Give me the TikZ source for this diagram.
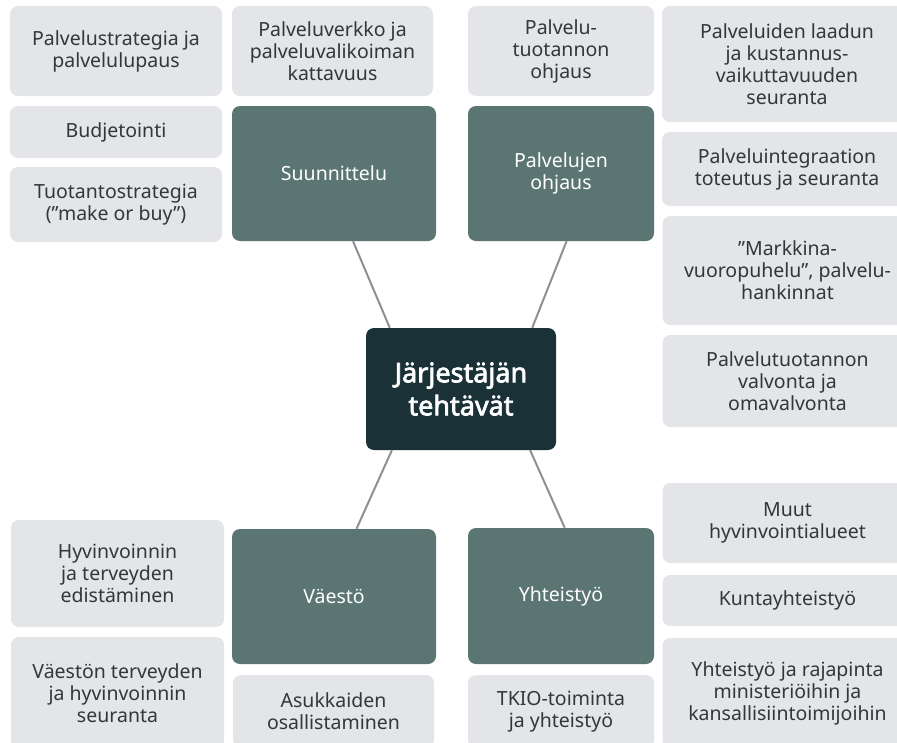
\documentclass[tikz,border=0pt]{standalone}
\usepackage{fontspec}
\setmainfont{Noto Sans}
\newfontfamily\corefont{Noto Sans}[FakeBold=2.6]
\usetikzlibrary{calc}
\definecolor{tilegray}{HTML}{E3E5E8}
\definecolor{hubgreen}{HTML}{5B7572}
\definecolor{coredark}{HTML}{1B3138}
\definecolor{inkgray}{HTML}{33373A}
\definecolor{linkgray}{HTML}{8C9196}
\tikzset{
  tile/.style={fill=tilegray, rounded corners=8pt, inner sep=0pt, align=center,
    text=inkgray, font=\fontsize{19.5}{22}\selectfont},
  hub/.style={fill=hubgreen, rounded corners=8pt, inner sep=0pt, align=center,
    text=white, font=\fontsize{19.5}{22}\selectfont},
  core/.style={fill=coredark, rounded corners=8pt, inner sep=0pt, align=center,
    text=white, font=\corefont\fontsize{27}{33}\selectfont},
  link/.style={draw=linkgray, line width=2pt},
}
\begin{document}
\begin{tikzpicture}[x=1pt,y=-1pt]
\useasboundingbox (0,0) rectangle (897,742);
\clip (0,0) rectangle (897,742);
\fill[white] (0,0) rectangle (897,742);

% Suunnittelu group
\node[tile, minimum width=212pt, minimum height=90pt] (strat) at (116,51) {Palvelustrategia ja\\palvelulupaus};
\node[tile, minimum width=201pt, minimum height=90pt] (verkko) at (332.5,51) {Palveluverkko ja\\palveluvalikoiman\\kattavuus};
\node[tile, minimum width=212pt, minimum height=52pt] (budj) at (116,132) {Budjetointi};
\node[tile, minimum width=212pt, minimum height=75pt] (tuot) at (116,204.5) {Tuotantostrategia\\(”make or buy”)};
\node[hub, minimum width=204pt, minimum height=135pt] (suun) at (334,173.5) {Suunnittelu};

% Palvelujen ohjaus group
\node[tile, minimum width=186pt, minimum height=90pt] (tuoh) at (561,51) {Palvelu-\\tuotannon\\ohjaus};
\node[hub, minimum width=186pt, minimum height=135pt] (ohj) at (561,173.5) {Palvelujen\\ohjaus};
\node[tile, minimum width=250pt, minimum height=116pt] (laatu) at (787,64) {Palveluiden laadun\\ja kustannus-\\vaikuttavuuden\\seuranta};
\node[tile, minimum width=250pt, minimum height=74pt] (integ) at (787,169) {Palveluintegraation\\toteutus ja seuranta};
\node[tile, minimum width=250pt, minimum height=109pt] (mark) at (787.5,270.5) {”Markkina-\\vuoropuhelu”, palvelu-\\hankinnat};
\node[tile, minimum width=250pt, minimum height=92pt] (valv) at (787.5,381) {Palvelutuotannon\\valvonta ja\\omavalvonta};

% Centre
\node[core, minimum width=190pt, minimum height=122pt] (mid) at (461,389) {Järjestäjän\\tehtävät};

% Väestö group
\node[tile, minimum width=213pt, minimum height=107pt] (edist) at (117.5,573.5) {Hyvinvoinnin\\ja terveyden\\edistäminen};
\node[tile, minimum width=213pt, minimum height=112pt] (seur) at (117.5,693) {Väestön terveyden\\ja hyvinvoinnin\\seuranta};
\node[hub, minimum width=204pt, minimum height=135pt] (vaes) at (334,596.5) {Väestö};
\node[tile, minimum width=201pt, minimum height=73pt] (asuk) at (333.5,711.5) {Asukkaiden\\osallistaminen};

% Yhteistyö group
\node[hub, minimum width=186pt, minimum height=136pt] (yht) at (561,596) {Yhteistyö};
\node[tile, minimum width=186pt, minimum height=73pt] (tkio) at (561,711.5) {TKIO-toiminta\\ja yhteistyö};
\node[tile, minimum width=250pt, minimum height=80pt] (muut) at (787.5,523) {Muut\\hyvinvointialueet};
\node[tile, minimum width=250pt, minimum height=51pt] (kunta) at (787.5,600.5) {Kuntayhteistyö};
\node[tile, minimum width=250pt, minimum height=110pt] (raja) at (787.5,693) {Yhteistyö ja rajapinta\\ministeriöihin ja\\kansallisiintoimijoihin};

% Connectors from the centre to the four task areas
\draw[link] ($(suun.south west)!0.593!(suun.south east)$) -- ($(mid.north west)!0.126!(mid.north east)$);
\draw[link] ($(ohj.south west)!0.53!(ohj.south east)$) -- ($(mid.north west)!0.874!(mid.north east)$);
\draw[link] ($(vaes.north west)!0.61!(vaes.north east)$) -- ($(mid.south west)!0.137!(mid.south east)$);
\draw[link] ($(yht.north west)!0.52!(yht.north east)$) -- ($(mid.south west)!0.863!(mid.south east)$);
\end{tikzpicture}
\end{document}
